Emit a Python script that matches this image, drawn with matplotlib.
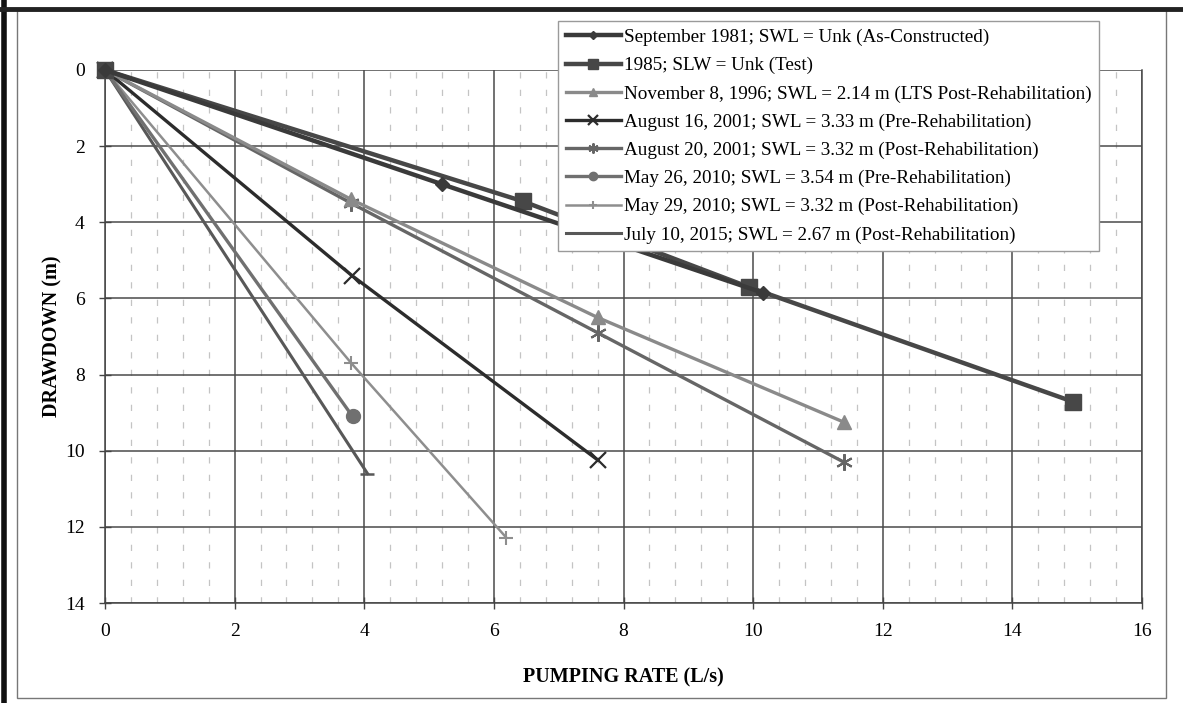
import matplotlib
matplotlib.use("Agg")
import matplotlib.pyplot as plt
from matplotlib.patches import Rectangle
from matplotlib.lines import Line2D
import numpy as np

# ---- data ----
labels = [
    "September 1981; SWL = Unk (As-Constructed)",
    "1985; SLW = Unk (Test)",
    "November 8, 1996; SWL = 2.14 m (LTS Post-Rehabilitation)",
    "August 16, 2001; SWL = 3.33 m (Pre-Rehabilitation)",
    "August 20, 2001; SWL = 3.32 m (Post-Rehabilitation)",
    "May 26, 2010; SWL = 3.54 m (Pre-Rehabilitation)",
    "May 29, 2010; SWL = 3.32 m (Post-Rehabilitation)",
    "July 10, 2015; SWL = 2.67 m (Post-Rehabilitation)",
]
rate_1981 = [0, 5.2, 10.15]
dd_1981 = [0, 3.0, 5.85]
rate_1985 = [0, 6.45, 9.93, 14.93]
dd_1985 = [0, 3.45, 5.70, 8.71]
rate_1996 = [0, 3.8, 7.6, 11.4]
dd_1996 = [0, 3.4, 6.5, 9.25]
rate_aug16_2001 = [0, 3.81, 7.6]
dd_aug16_2001 = [0, 5.4, 10.24]
rate_aug20_2001 = [0, 3.8, 7.6, 11.4]
dd_aug20_2001 = [0, 3.5, 6.9, 10.3]
rate_may26_2010 = [0, 3.82]
dd_may26_2010 = [0, 9.1]
rate_may29_2010 = [0, 3.8, 6.19]
dd_may29_2010 = [0, 7.7, 12.28]
rate_jul10_2015 = [0, 4.05]
dd_jul10_2015 = [0, 10.6]

xs = [rate_1981, rate_1985, rate_1996, rate_aug16_2001, rate_aug20_2001,
      rate_may26_2010, rate_may29_2010, rate_jul10_2015]
ys = [dd_1981, dd_1985, dd_1996, dd_aug16_2001, dd_aug20_2001,
      dd_may26_2010, dd_may29_2010, dd_jul10_2015]

styles = [
    dict(color="#3a3a3a", lw=3.2, marker="D", ms=7),
    dict(color="#474747", lw=3.2, marker="s", ms=11),
    dict(color="#8a8a8a", lw=2.4, marker="^", ms=10),
    dict(color="#2c2c2c", lw=2.4, marker="x", ms=11, mew=1.6),
    dict(color="#666666", lw=2.4, marker=(6, 2, 0), ms=12, mew=1.5),
    dict(color="#707070", lw=2.4, marker="o", ms=10),
    dict(color="#8e8e8e", lw=1.8, marker="+", ms=10, mew=1.5),
    dict(color="#585858", lw=2.2, marker="_", ms=10, mew=1.8),
]

plt.rcParams["font.family"] = ["Liberation Serif", "DejaVu Serif"]

fig = plt.figure(figsize=(11.83, 7.03), dpi=100)
ax = fig.add_axes([105 / 1183, 1 - 603 / 703, 1037 / 1183, 533 / 703])

handles = []
order = list(range(len(labels)))
for i in reversed(order):
    st = styles[i]
    ax.plot(xs[i], ys[i], color=st["color"], lw=st["lw"], marker=st["marker"],
            ms=st["ms"], mew=st.get("mew", 1.0), mfc=st["color"], mec=st["color"],
            zorder=3 + (len(labels) - i) * 0.1, clip_on=False)
for i in order:
    st = styles[i]
    handles.append(Line2D([], [], color=st["color"], lw=st["lw"], marker=st["marker"],
                          ms=st["ms"] * 0.6, mew=st.get("mew", 1.0), mfc=st["color"],
                          mec=st["color"]))

ax.set_xlim(0, 16)
ax.set_ylim(14, 0)
ax.set_xticks(np.arange(0, 17, 2))
ax.set_yticks(np.arange(0, 15, 2))
ax.set_xticks(np.arange(0, 16.01, 0.4), minor=True)
ax.grid(True, which="major", color="#4a4a4a", lw=1.1)
ax.grid(True, which="minor", axis="x", color="#c4c4c4", lw=0.9, linestyle=(0, (5, 9)))
ax.set_axisbelow(True)
ax.tick_params(which="major", direction="inout", length=9, width=1.0, color="#444444",
               labelsize=14, pad=10)
ax.tick_params(which="minor", length=0)
ax.spines["top"].set_visible(False)
ax.spines["right"].set_color("#4a4a4a")
ax.spines["left"].set_color("#444444")
ax.spines["bottom"].set_color("#444444")
for s in ax.spines.values():
    s.set_linewidth(1.1)

ax.set_xlabel("PUMPING RATE (L/s)", fontsize=14.5, fontweight="bold", labelpad=20)
ax.set_ylabel("DRAWDOWN (m)", fontsize=14.5, fontweight="bold", labelpad=2)

leg = ax.legend(handles, labels, loc="upper left", bbox_to_anchor=(0.4368, 1.092),
                fontsize=13.8, frameon=True, fancybox=False, handlelength=2.9,
                handletextpad=0.12, labelspacing=0.56, borderpad=0.4,
                borderaxespad=0, edgecolor="#9a9a9a", framealpha=1)
leg.get_frame().set_linewidth(1.0)
leg.set_zorder(10)

# outer frame of the scanned figure
fig.patches.append(Rectangle((17 / 1183, 1 - 698 / 703), (1166 - 17) / 1183, (698 - 10) / 703,
                             transform=fig.transFigure, fill=False, ec="#777777", lw=1.0))
fig.add_artist(Line2D([4 / 1183, 4 / 1183], [0, 1], transform=fig.transFigure,
                      color="#111111", lw=4))
fig.add_artist(Line2D([0, 1], [1 - 9 / 703, 1 - 9 / 703], transform=fig.transFigure,
                      color="#222222", lw=3.5))

fig.savefig("out.png", dpi=100)
